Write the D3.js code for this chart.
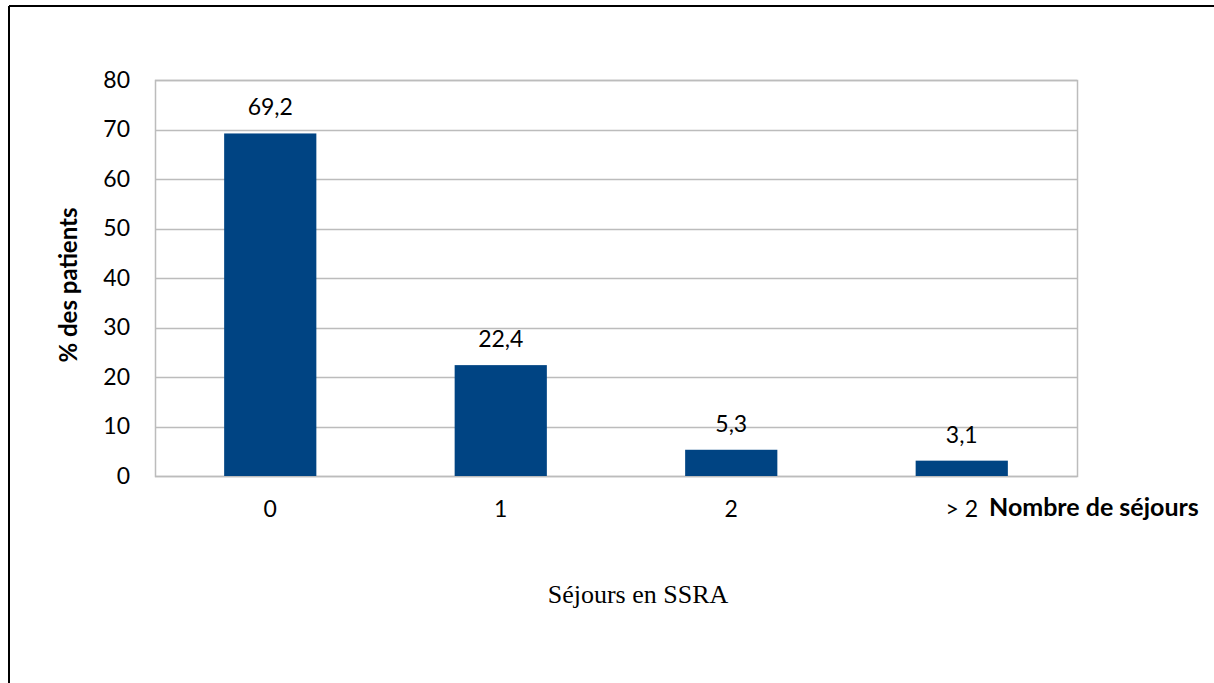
<!DOCTYPE html>
<html>
<head>
<meta charset="utf-8">
<script src="https://cdn.jsdelivr.net/npm/d3@7"></script>
<style>
  html, body { margin: 0; padding: 0; background: #fff; }
  svg { display: block; }
</style>
</head>
<body>
<svg id="chart" width="1214" height="683"></svg>
<script>
// Number of stays in SSRA and share of patients (%)
const categories = ["0", "1", "2", "> 2"];
const values = [69.2, 22.4, 5.3, 3.1];
const valueLabels = ["69,2", "22,4", "5,3", "3,1"];
const yTicks = [0, 10, 20, 30, 40, 50, 60, 70, 80];

const svg = d3.select("#chart");
const W = 1214, H = 683;
const plot = { left: 155, right: 1077, top: 80, bottom: 476 };
const sansFont = "Lato, 'Open Sans', sans-serif";

// frame around the figure (top and left edges visible)
svg.append("line").attr("x1", 9).attr("x2", W).attr("y1", 6).attr("y2", 6)
  .attr("stroke", "#000").attr("stroke-width", 2);
svg.append("line").attr("x1", 9).attr("x2", 9).attr("y1", 6).attr("y2", H)
  .attr("stroke", "#000").attr("stroke-width", 2);

const x = d3.scaleBand()
  .domain(categories)
  .range([plot.left, plot.right])
  .paddingInner(0.6)
  .paddingOuter(0.3);

const y = d3.scaleLinear()
  .domain([0, 80])
  .range([plot.bottom, plot.top]);

// horizontal gridlines
svg.append("g")
  .selectAll("line")
  .data(yTicks)
  .join("line")
  .attr("x1", plot.left).attr("x2", plot.right)
  .attr("y1", d => Math.round(y(d)) + 0.5).attr("y2", d => Math.round(y(d)) + 0.5)
  .attr("stroke", "#bcbcbc").attr("stroke-width", 1.5);

// plot area border
svg.append("rect")
  .attr("x", plot.left + 0.5).attr("y", plot.top + 0.5)
  .attr("width", plot.right - plot.left).attr("height", plot.bottom - plot.top)
  .attr("fill", "none").attr("stroke", "#bcbcbc").attr("stroke-width", 1.5);

// y axis tick labels
const yAxis = d3.axisLeft(y).tickValues(yTicks).tickSize(0).tickPadding(25);
const gy = svg.append("g").attr("transform", `translate(${plot.left},0)`).call(yAxis);
gy.select(".domain").remove();
gy.selectAll("text").attr("font-family", sansFont).attr("font-size", 23).attr("fill", "#000");

// bars
svg.append("g")
  .selectAll("rect")
  .data(values)
  .join("rect")
  .attr("x", (d, i) => x(categories[i]))
  .attr("width", x.bandwidth())
  .attr("y", d => y(d))
  .attr("height", d => y(0) - y(d))
  .attr("fill", "#004483");

// value labels above bars
svg.append("g")
  .selectAll("text")
  .data(values)
  .join("text")
  .attr("x", (d, i) => x(categories[i]) + x.bandwidth() / 2)
  .attr("y", d => y(d) - 18)
  .attr("text-anchor", "middle")
  .attr("font-family", sansFont).attr("font-size", 23).attr("fill", "#000")
  .text((d, i) => valueLabels[i]);

// x axis tick labels
const xAxis = d3.axisBottom(x).tickSize(0).tickPadding(25);
const gx = svg.append("g").attr("transform", `translate(0,${plot.bottom})`).call(xAxis);
gx.select(".domain").remove();
gx.selectAll("text").attr("font-family", sansFont).attr("font-size", 23).attr("fill", "#000");

// x axis title
svg.append("text")
  .attr("x", 989).attr("y", 516)
  .attr("font-family", sansFont).attr("font-size", 25).attr("font-weight", "bold").attr("fill", "#000")
  .text("Nombre de séjours");

// y axis title
svg.append("text")
  .attr("transform", `translate(77,${(plot.top + plot.bottom) / 2 + 7}) rotate(-90)`)
  .attr("text-anchor", "middle")
  .attr("font-family", sansFont).attr("font-size", 24).attr("font-weight", "bold").attr("fill", "#000")
  .text("% des patients");

// figure caption
svg.append("text")
  .attr("x", 638).attr("y", 603)
  .attr("text-anchor", "middle")
  .attr("font-family", "'Liberation Serif', 'DejaVu Serif', serif").attr("font-size", 26).attr("fill", "#000")
  .text("Séjours en SSRA");
</script>
</body>
</html>
